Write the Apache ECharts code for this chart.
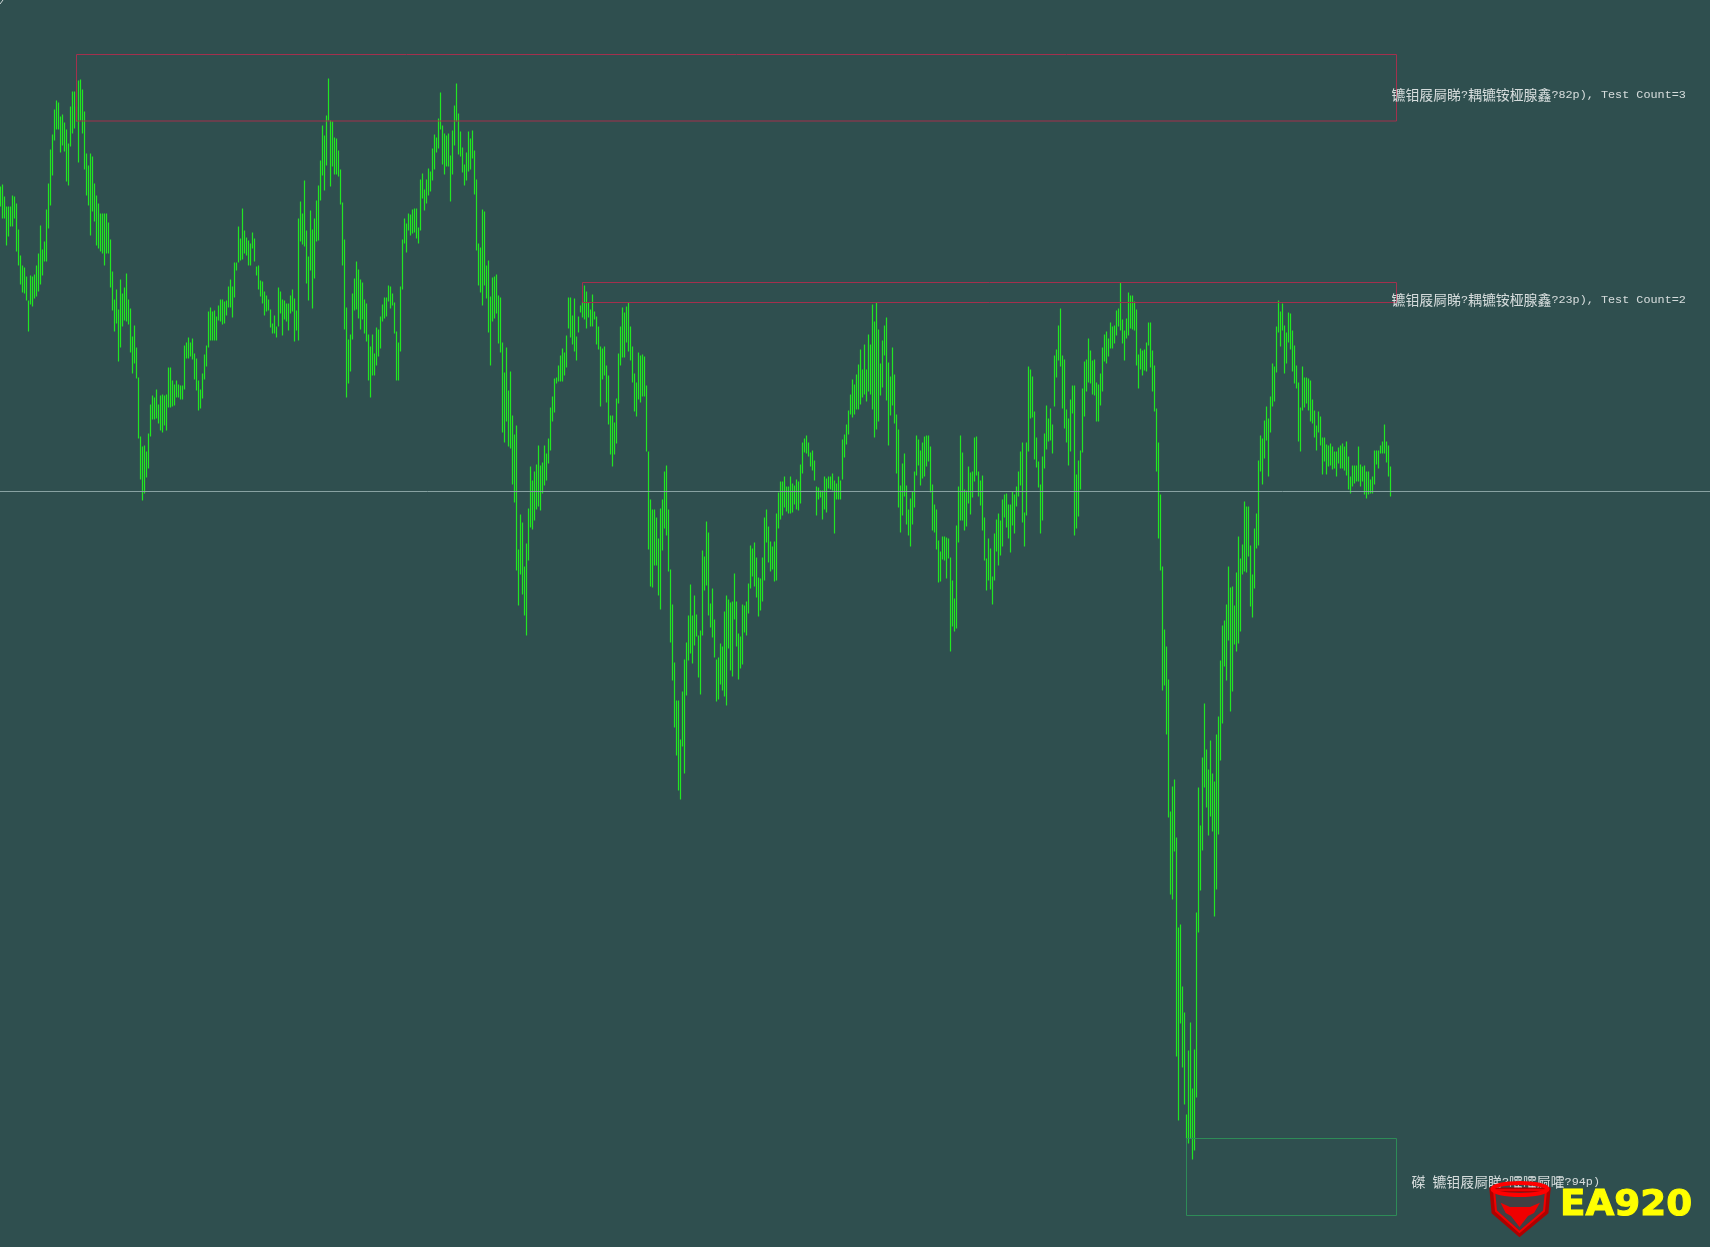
<!DOCTYPE html>
<html>
<head>
<meta charset="utf-8">
<style>html,body{margin:0;padding:0;background:#2f4f4f}#c{width:1710px;height:1247px}</style>
<script src="https://cdn.jsdelivr.net/npm/echarts@6/dist/echarts.min.js"></script>
</head>
<body>
<div id="c"></div>
<script>
// Bar highs and lows, in points above (+) or below (-) the current-price line
const highs = [
305,307,295,285,285,285,296,295,288,262,
236,226,224,215,191,216,215,217,226,238,
266,242,250,282,308,342,357,382,391,389,
375,377,369,362,348,385,400,400,385,411,
412,402,380,338,326,338,335,308,296,288,
278,278,278,278,269,252,220,192,202,182,
212,198,204,218,192,183,155,166,144,114,
55,45,46,40,58,87,96,94,102,87,
96,97,96,97,124,124,111,107,111,107,
106,106,146,149,154,149,153,138,133,111,
102,118,137,146,180,184,180,181,175,186,
192,192,190,191,205,212,205,229,229,265,
253,283,261,254,251,248,259,253,225,226,
211,210,200,196,192,182,168,176,165,204,
200,192,191,188,188,196,202,193,181,273,
290,278,311,261,235,281,262,273,291,306,
331,366,356,376,413,371,370,354,353,341,
322,289,252,184,152,157,198,213,230,222,
212,209,192,188,157,145,157,138,164,162,
175,187,194,194,206,205,198,189,160,149,
205,252,273,268,278,277,282,283,283,264,
312,318,302,312,323,320,343,357,354,373,
399,366,358,356,358,336,361,386,408,378,
360,344,327,339,360,353,361,341,312,248,
244,282,280,226,231,195,214,215,217,196,
194,149,119,144,101,120,76,57,66,-58,
-23,-31,-75,-52,-17,25,11,20,27,46,
26,29,46,38,53,84,95,113,114,126,
136,143,139,156,194,194,176,193,155,175,
186,190,206,200,189,182,197,180,175,165,
145,143,145,126,116,76,76,69,93,138,
165,184,179,185,189,165,145,118,109,139,
136,137,135,106,40,-8,-18,-18,-26,-47,
-17,-8,20,26,-18,-78,-113,-171,-209,-209,
-248,-200,-168,-151,-124,-93,-124,-104,-123,-144,
-139,-59,-65,-30,-41,-112,-97,-128,-168,-166,
-152,-155,-120,-104,-108,-111,-110,-82,-110,-142,
-145,-113,-114,-110,-92,-54,-57,-51,-66,-86,
-87,-66,-26,-18,-35,-50,-55,-50,-22,-1,
10,10,15,5,5,15,8,6,12,10,
27,49,53,56,49,39,41,31,5,4,
1,1,15,13,15,15,18,11,8,15,
11,52,57,67,81,97,112,107,117,127,
142,122,147,122,157,147,187,170,189,162,
128,151,166,174,129,115,144,117,77,62,
6,28,38,6,-18,-7,0,20,56,52,
41,49,55,56,56,45,7,-13,-18,-49,
-60,-45,-45,-46,-47,-66,-89,-107,-34,5,
56,39,2,1,25,19,20,54,55,20,
11,16,-26,-67,-47,-57,-85,-42,-28,-22,
-29,-8,-3,-2,-13,-13,0,-3,5,20,
40,49,-21,49,125,122,115,80,54,30,
7,35,58,86,73,83,67,136,142,166,
183,136,132,82,73,92,106,106,17,31,
41,103,130,132,153,141,131,132,109,107,
118,144,157,160,153,169,165,166,181,183,
209,172,161,173,199,196,196,190,182,137,
143,141,142,149,169,169,141,126,83,49,
-3,-75,-138,-155,-188,-320,-295,-288,-346,-436,
-433,-495,-521,-623,-559,-531,-597,-558,-421,-296,
-334,-266,-212,-258,-278,-249,-282,-290,-243,-225,
-169,-134,-129,-113,-75,-96,-95,-114,-81,-45,
-67,-53,-10,-15,-15,-54,-83,-37,-22,31,
56,53,71,85,73,95,128,125,165,191,
180,188,166,159,179,178,161,146,126,109,
84,125,114,114,113,111,92,81,66,80,
75,54,54,47,46,48,45,40,40,44,
46,48,45,50,35,15,26,26,26,45,
27,25,26,20,20,12,15,41,41,41,
46,50,67,50,46,25];
const lows = [
285,273,273,246,255,265,265,273,240,226,
207,199,198,191,160,187,185,193,195,200,
207,216,230,230,263,286,316,351,362,362,
339,346,340,310,306,345,358,363,370,329,
371,358,322,296,286,256,280,270,246,243,
240,238,226,238,238,204,181,160,168,130,
144,165,171,170,167,139,118,128,113,53,
12,-9,-2,14,23,55,72,72,73,68,
61,59,66,61,84,84,85,86,94,94,
92,92,102,133,133,135,132,112,101,81,
83,93,112,125,144,151,151,151,151,171,
170,167,168,176,184,184,174,194,221,229,
231,232,238,236,226,226,243,230,216,202,
195,188,176,180,181,164,158,158,154,165,
178,156,172,170,161,178,180,150,161,151,
250,247,245,208,191,221,183,213,250,251,
291,316,301,326,371,305,325,317,317,315,
287,226,162,94,108,120,152,181,182,173,
162,172,158,150,111,94,116,116,126,135,
143,170,173,175,190,183,186,158,111,111,
140,202,248,239,261,256,258,259,253,248,
261,293,281,288,296,300,311,322,339,343,
362,327,317,325,325,290,317,346,370,337,
335,319,306,311,320,322,333,297,241,206,
199,186,206,193,159,126,170,173,178,148,
139,59,49,70,45,43,7,-11,-79,-114,
-83,-103,-124,-144,-69,-36,-38,-29,-18,-15,
-19,-2,6,11,28,41,70,79,108,110,
110,110,116,124,163,154,147,140,131,159,
179,174,172,163,174,165,165,172,147,142,
85,112,116,89,67,37,25,37,48,88,
126,134,134,149,140,131,109,80,75,92,
89,95,95,40,-58,-95,-96,-74,-74,-104,
-118,-59,-37,-44,-80,-151,-189,-236,-264,-299,
-308,-255,-282,-204,-169,-162,-172,-154,-145,-186,
-203,-144,-99,-94,-124,-136,-146,-166,-210,-208,
-193,-199,-205,-214,-157,-179,-185,-128,-155,-188,
-177,-173,-141,-144,-122,-97,-85,-95,-106,-125,
-119,-110,-89,-51,-71,-80,-78,-90,-89,-37,
-28,-24,-16,-20,-22,-22,-21,-13,-18,-19,
-12,18,39,38,35,25,21,11,-24,-8,
-6,-28,-18,-21,3,2,1,-42,-8,-8,
-8,12,34,47,57,77,74,77,82,82,
87,94,97,90,100,97,82,54,62,70,
96,104,136,91,46,76,86,68,18,-16,
-41,-24,-5,-33,-44,-55,-33,-16,16,26,
6,13,15,25,30,-1,-39,-41,-58,-91,
-90,-68,-69,-87,-67,-160,-135,-140,-137,-51,
-29,-29,-39,-35,-12,-23,-6,10,16,-5,
-14,-39,-69,-99,-89,-98,-113,-89,-60,-74,
-64,-55,-26,-36,-47,-61,-34,-42,-15,-5,
6,-31,-55,-24,40,73,74,32,24,4,
-42,-29,23,42,50,51,38,85,114,131,
125,83,63,49,26,40,78,-44,-37,-25,
2,39,75,100,109,108,97,96,70,70,
86,100,130,128,135,143,143,148,156,165,
161,148,131,153,156,163,162,161,126,103,
122,116,121,120,146,124,100,80,20,-47,
-79,-199,-194,-243,-326,-403,-408,-360,-565,-629,
-532,-576,-613,-647,-652,-647,-668,-659,-606,-441,
-399,-359,-296,-316,-344,-325,-340,-425,-398,-343,
-269,-232,-175,-189,-149,-220,-200,-153,-160,-152,
-140,-83,-80,-81,-65,-115,-126,-97,-57,-54,
20,7,33,51,15,59,85,90,119,159,
145,161,118,128,149,142,120,108,103,50,
40,81,84,88,81,70,68,54,41,59,
46,17,30,17,25,26,22,23,15,28,
23,23,21,16,2,-2,5,8,10,10,
5,10,-3,-7,-3,-2,-2,7,27,23,
38,38,38,29,15,-5];

// Supply and demand zones: first bar, last bar, upper level, lower level
const zoneStart = [38, 291, 593];
const zoneEnd   = [698, 698, 698];
const zoneTop   = [437, 209, -647];
const zoneBottom= [370.5, 189, -724];
const zoneKinds = ['supply', 'supply', 'demand'];

// Zone captions, as garbled in the source picture
const captionBars   = [695.5, 695.5, 705.5];
const captionLevels = [397, 191.5, -690.5];
const captionTexts  = [
  '{c|镳钼屐屙睇}{l|?}{c|耦镳铵桠腺鑫}{l|?82p), Test Count=3}',
  '{c|镳钼屐屙睇}{l|?}{c|耦镳铵桠腺鑫}{l|?23p), Test Count=2}',
  '{c|磔}{l| }{c|镳钼屐屙睇}{l|?}{c|嚯嚯屙嚯}{l|?94p)}'
];
const priceLine = 0;

const zoneColours = {supply: '#a3304d', demand: '#2e8b57'};

const chart = echarts.init(document.getElementById('c'), null, {renderer: 'canvas', width: 1710, height: 1247});
chart.setOption({
  animation: false,
  backgroundColor: '#2f4f4f',
  grid: {left: 0, right: 0, top: 0, bottom: 0},
  xAxis: {type: 'value', min: -0.25, max: 854.75, show: false},
  yAxis: {type: 'value', min: -755.5, max: 491.5, show: false},
  series: [
    {
      type: 'custom', name: 'bars', z: 2, silent: true,
      data: highs.map((h, i) => [i, h, lows[i]]),
      encode: {x: 0, y: [1, 2]},
      renderItem: (p, api) => {
        const a = api.coord([api.value(0), api.value(1)]);
        const b = api.coord([api.value(0), api.value(2)]);
        return {type: 'line', shape: {x1: a[0], y1: a[1], x2: b[0], y2: b[1]},
                style: {stroke: '#22e622', lineWidth: 1.2}};
      },
      markLine: {
        silent: true, symbol: 'none', animation: false, label: {show: false},
        lineStyle: {color: '#88a2a2', width: 1, type: 'solid'},
        data: [{yAxis: priceLine}]
      }
    },
    {
      type: 'custom', name: 'zones', z: 3, silent: true,
      data: zoneStart.map((s, i) => [s, zoneEnd[i], zoneTop[i], zoneBottom[i], i]),
      encode: {x: [0, 1], y: [2, 3]},
      renderItem: (p, api) => {
        const a = api.coord([api.value(0), api.value(2)]);
        const b = api.coord([api.value(1), api.value(3)]);
        return {type: 'rect', shape: {x: a[0], y: a[1], width: b[0] - a[0], height: b[1] - a[1]},
                style: {fill: 'none', stroke: zoneColours[zoneKinds[api.value(4)]], lineWidth: 1}};
      }
    },
    {
      type: 'scatter', name: 'captions', z: 4, silent: true, symbolSize: 0,
      data: captionBars.map((b, i) => ({value: [b, captionLevels[i]], caption: captionTexts[i]})),
      label: {
        show: true, position: 'right', distance: 0,
        formatter: p => p.data.caption,
        rich: {
          c: {fontFamily: '"Noto Sans CJK SC"', fontSize: 13.9, color: '#ffffff', lineHeight: 16},
          l: {fontFamily: '"Liberation Mono"', fontSize: 11.8, color: '#ffffff', lineHeight: 16}
        }
      }
    }
  ],
  graphic: [
    {type: 'line', z: 100, shape: {x1: 0, y1: 4, x2: 3, y2: 0}, style: {stroke: '#cfd8d8', lineWidth: 1}},
    {type: 'polygon', z: 100, shape: {points: [[1492,1190],[1494,1212],[1519.5,1234],[1546,1212],[1548,1190]]},
     style: {fill: 'rgba(120,20,30,0.25)', stroke: '#b00000', lineWidth: 5}},
    {type: 'polygon', z: 100, shape: {points: [[1494,1190],[1496,1211],[1519.5,1232],[1544,1211],[1546,1190]]},
     style: {fill: 'none', stroke: '#f00000', lineWidth: 2}},
    {type: 'polygon', z: 101, shape: {points: [[1500.6,1202.7],[1510,1207],[1530,1207],[1540,1202.7],[1534,1213],[1528,1216],[1519.5,1227],[1511,1216],[1505.7,1213]]},
     style: {fill: '#f00000'}},
    {type: 'ellipse', z: 102, shape: {cx: 1520, cy: 1189, rx: 27.5, ry: 6},
     style: {fill: 'none', stroke: '#ff0000', lineWidth: 4}},
    {type: 'text', z: 103, x: 1560, y: 1224, scaleX: 1.035,
     style: {text: 'EA920', fill: '#ffff00', stroke: '#ffff00', lineWidth: 1,
             font: 'bold 36px "DejaVu Sans"', textVerticalAlign: 'bottom', verticalAlign: 'alphabetic'}}
  ]
});
</script>
</body>
</html>
